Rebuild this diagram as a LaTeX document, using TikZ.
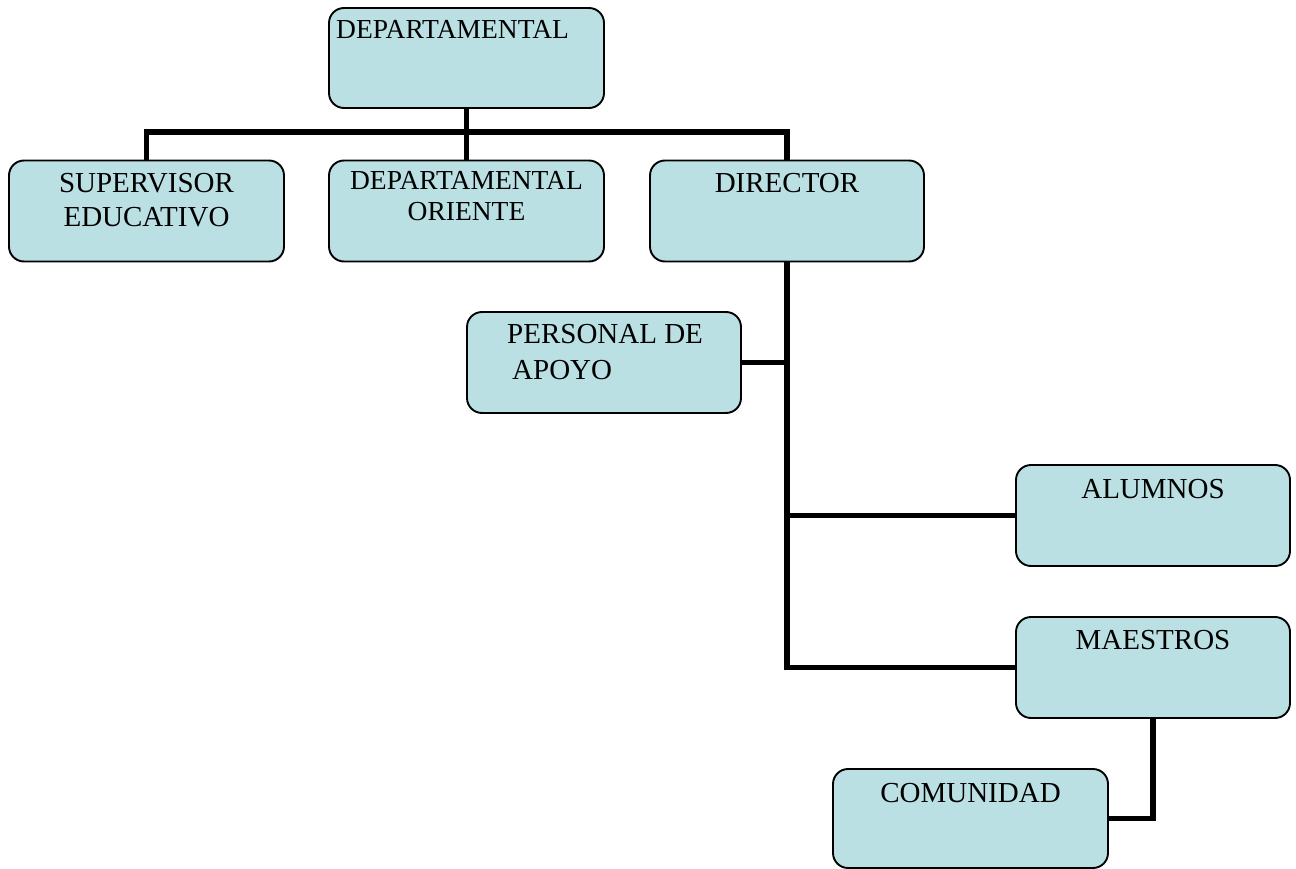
\documentclass[tikz,border=0pt]{standalone}
\usepackage{fontspec}
\setmainfont{Liberation Serif}
\definecolor{boxfill}{HTML}{BAE0E3}
\tikzset{
  orgbox/.style={draw=black, line width=1.9pt, fill=boxfill, rounded corners=15pt,
    minimum width=#1, minimum height=101pt, inner sep=0pt, anchor=center},
  orgbox/.default=275pt,
  big/.style={font=\fontsize{29}{32}\selectfont, inner sep=0pt, anchor=base},
  small/.style={font=\fontsize{27.5}{30}\selectfont, inner sep=0pt, anchor=base},
  link/.style={line width=5.5pt, line cap=butt}
}
\begin{document}
\begin{tikzpicture}[x=1pt,y=-1pt]
\useasboundingbox (0,0) rectangle (1296,869);
% boxes
\node[orgbox, minimum height=100pt] (dep) at (466.5,58) {};
\node[orgbox] (sup) at (146.5,211) {};
\node[orgbox] (ori) at (466.5,211) {};
\node[orgbox=274pt] (dir) at (787,211) {};
\node[orgbox=274pt] (per) at (604,362.5) {};
\node[orgbox=274pt] (alu) at (1153,515.5) {};
\node[orgbox=274pt] (mae) at (1153,667.5) {};
\node[orgbox, minimum height=99pt] (com) at (970.5,818.5) {};
% texts
\node[small, anchor=base west] (tdep) at (336,39) {DEPARTAMENTAL};
\node[big] (tsup1) at (146.5,193) {SUPERVISOR};
\node[big] (tsup2) at (146.5,227) {EDUCATIVO};
\node[small] (tori1) at (466.5,190) {DEPARTAMENTAL};
\node[small] (tori2) at (466.5,221) {ORIENTE};
\node[big] (tdir) at (787,193) {DIRECTOR};
\node[big, anchor=base west] (tper1) at (507,343) {PERSONAL DE};
\node[big, anchor=base west] (tper2) at (512,379) {APOYO};
\node[big] (talu) at (1153,498) {ALUMNOS};
\node[big] (tmae) at (1153,649) {MAESTROS};
\node[big] (tcom) at (970.5,802) {COMUNIDAD};
% connectors
\coordinate (bar) at (466.5,132);
\draw[link] (dep.south) -- (ori.north);
\draw[link] (sup.north) |- (bar) -| (dir.north);
\draw[link] (dir.south) |- (mae.west);
\draw[link] (per.east) -- (per.east -| dir.south);
\draw[link] (alu.west) -- (alu.west -| dir.south);
\draw[link] (mae.south) |- (com.east);
\end{tikzpicture}
\end{document}
